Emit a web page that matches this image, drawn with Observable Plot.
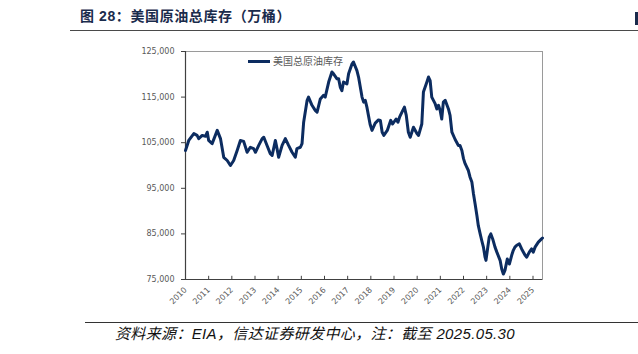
<!DOCTYPE html>
<html><head><meta charset="utf-8">
<script src="https://cdn.jsdelivr.net/npm/d3@7"></script>
<script src="https://cdn.jsdelivr.net/npm/@observablehq/plot@0.6"></script>
<style>
body{margin:0;background:#fff;}
#wrap{position:relative;width:638px;height:354px;overflow:hidden;background:#fff;font-family:"Noto Sans CJK SC",sans-serif;}
#chart{position:absolute;left:0;top:0;}
#title{position:absolute;left:80px;top:6px;font-size:14px;font-weight:bold;color:#1a2b4c;white-space:nowrap;line-height:20px;letter-spacing:0.6px;font-family:"Liberation Sans","Noto Sans CJK SC",sans-serif;}
#tline{position:absolute;left:70px;top:30px;width:568px;height:0;border-top:1.5px solid #4a4a4a;}
#tbar{position:absolute;left:635px;top:12px;width:3px;height:13px;background:#1a2b4c;}
#legend{position:absolute;left:248px;top:53px;font-size:10px;color:#595959;white-space:nowrap;line-height:16px;}
#legend .sw{display:inline-block;width:22px;height:3px;background:#0c2c60;vertical-align:middle;margin-right:3px;position:relative;top:-1px;}
#fline{position:absolute;left:85px;top:322px;width:553px;height:0;border-top:1px solid #333;}
#foot{position:absolute;left:115px;top:325px;font-size:15px;font-style:italic;color:#111;white-space:nowrap;line-height:18px;letter-spacing:0.35px;font-family:"Liberation Sans","Noto Sans CJK SC",sans-serif;}
</style></head><body>
<div id="wrap">
  <div id="chart"></div>
  <div id="title">图 28：美国原油总库存（万桶）</div>
  <div id="tline"></div>
  <div id="tbar"></div>
  <div id="legend"><span class="sw"></span>美国总原油库存</div>
  <div id="fline"></div>
  <div id="foot">资料来源：EIA，信达证券研发中心，注：截至 2025.05.30</div>
</div>
<script>
// decimal years
const dates = [
2010.00,2010.14,2010.36,2010.50,2010.57,2010.72,2010.86,2010.94,2011.00,2011.15,
2011.37,2011.51,2011.65,2011.80,2011.94,2012.08,2012.23,2012.37,2012.51,2012.66,
2012.80,2012.94,2013.02,2013.16,2013.31,2013.38,2013.52,2013.66,2013.74,2013.88,
2013.95,2014.02,2014.17,2014.31,2014.45,2014.60,2014.74,2014.81,2014.96,2015.03,
2015.10,2015.25,2015.31,2015.46,2015.60,2015.68,2015.82,2015.96,2016.03,2016.18,
2016.32,2016.39,2016.54,2016.61,2016.68,2016.75,2016.82,2016.97,2017.04,2017.19,
2017.25,2017.40,2017.47,2017.62,2017.69,2017.76,2017.83,2017.97,2018.05,2018.19,
2018.33,2018.41,2018.49,2018.56,2018.71,2018.86,2018.94,2019.09,2019.17,2019.24,
2019.38,2019.45,2019.53,2019.62,2019.70,2019.84,2019.99,2020.06,2020.20,2020.27,
2020.42,2020.49,2020.56,2020.63,2020.78,2020.85,2020.92,2020.99,2021.06,2021.13,
2021.21,2021.35,2021.42,2021.50,2021.64,2021.78,2021.85,2021.93,2022.00,2022.07,
2022.21,2022.28,2022.36,2022.43,2022.50,2022.58,2022.64,2022.72,2022.79,2022.86,
2022.93,2022.97,2023.03,2023.11,2023.18,2023.26,2023.36,2023.44,2023.58,2023.65,
2023.72,2023.79,2023.89,2023.98,2024.08,2024.15,2024.22,2024.30,2024.41,2024.51,
2024.66,2024.73,2024.84,2024.94,2025.01,2025.09,2025.23,2025.37,2025.41
];
// 万桶
const values = [
103300,105500,107000,106600,105900,106600,106400,107300,105500,104800,
107700,105900,101800,101100,100000,101100,103300,105500,105300,102900,
104000,103700,102900,104400,105900,106200,104400,102600,102200,105500,
103700,101800,104400,105900,104400,102900,101800,103700,104000,104800,
109500,114300,115000,113200,112100,111700,114600,115400,115000,118300,
120500,120100,119000,119000,117200,116400,118300,117900,120100,122300,
122700,120800,119400,115000,113900,114300,112800,109000,107700,109300,
110000,109900,107300,106600,107700,109900,109100,110200,109500,110600,
112100,112800,111000,107300,106200,108400,107000,106600,109100,116100,
118300,119400,118600,115000,113500,112400,113200,112100,110200,113900,
114300,112400,111000,107300,105700,104400,104400,103300,101500,100400,
98900,97500,96400,93800,91600,89000,86800,85000,83500,82100,
79900,79200,81400,84300,85000,83900,82100,81000,79200,77300,
76200,77000,79500,78400,80300,81400,82100,82500,82800,81700,
80300,79900,81000,81700,81000,82100,83200,83900,84100
];
const yearTicks = d3.range(2010, 2026);
const yTicks = [75000, 85000, 95000, 105000, 115000, 125000];
const xEnd = 2025.41;

const data = dates.map((t, i) => ({t, v: values[i]}));

const plot = Plot.plot({
  width: 638, height: 354,
  marginLeft: 185, marginRight: 96, marginTop: 51, marginBottom: 75,
  style: {fontFamily: "DejaVu Sans", fontSize: "8px", color: "#595959", background: "transparent"},
  x: {domain: [2010, xEnd], label: null},
  y: {domain: [75000, 125000], label: null},
  marks: [
    Plot.frame({stroke: "#9a9a9a"}),
    Plot.ruleY([75000], {stroke: "#404040", strokeWidth: 1.2}),
    Plot.ruleX([2010], {stroke: "#404040", strokeWidth: 1.2}),
    Plot.ruleX(yearTicks, {y1: 75000, y2: 75700, stroke: "#404040"}),
    Plot.axisY({ticks: yTicks, tickFormat: d3.format(","), tickSize: 4, tickPadding: 7, stroke: "#404040", fill: "#595959"}),
    Plot.axisX({ticks: yearTicks, tickFormat: d => String(d), tickRotate: -45, tickSize: 0, tickPadding: 9, fill: "#595959"}),
    Plot.line(data, {x: "t", y: "v", stroke: "#0c2c60", strokeWidth: 3, strokeLinejoin: "round"})
  ]
});
document.getElementById("chart").appendChild(plot);
</script>
</body></html>
